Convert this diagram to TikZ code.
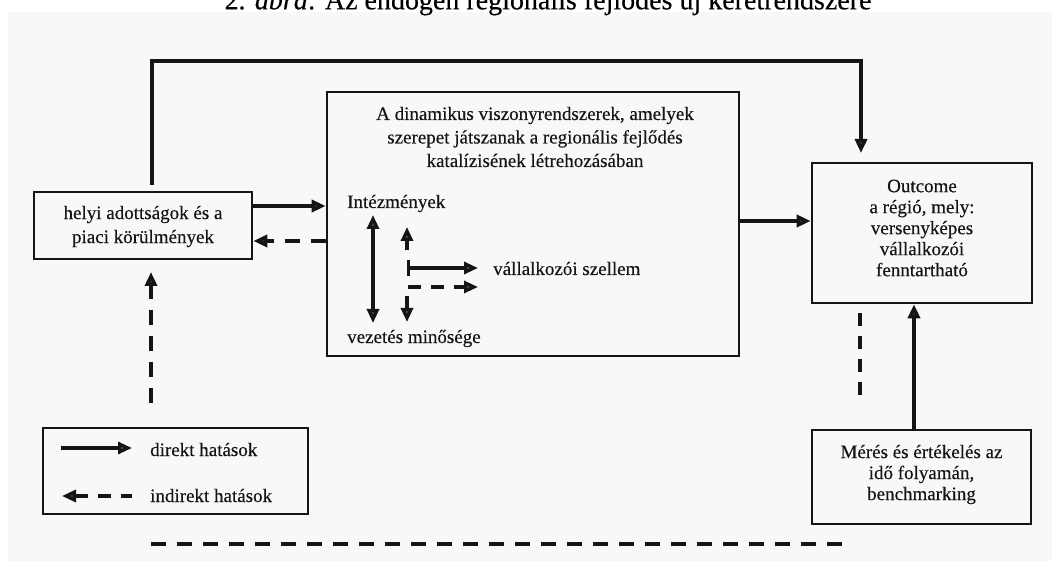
\documentclass[tikz,border=0pt]{standalone}
\usepackage{fontspec}
\setmainfont{Liberation Serif}[FakeBold=0.3]
\usetikzlibrary{arrows.meta}
\definecolor{bgc}{HTML}{F8F8F8}
\definecolor{ink}{HTML}{151515}
\begin{document}
\begin{tikzpicture}[x=1pt,y=-1pt,
  >={Triangle[length=14pt,width=12pt,fill=black!70]},
  box/.style={draw=ink,line width=2.6pt,inner sep=0pt},
  txt/.style={font=\fontsize{19}{21}\selectfont,inner sep=0pt,align=center,text=ink},
  main/.style={draw=ink,line width=3.6pt},
  inner/.style={draw=ink,line width=3.2pt},
  dsh/.style={dash pattern=on 15pt off 11pt},
  dshs/.style={dash pattern=on 13pt off 10pt}]
\useasboundingbox (0,0) rectangle (1052,561);
\fill[bgc] (8,12) rectangle (1052,561);
\node[anchor=base,inner sep=0pt,font=\fontsize{28}{30}\selectfont] (title) at (548,9.3)
  {2. \textit{ábra}: Az endogén regionális fejlődés új keretrendszere};
% boxes
\node[box,minimum width=218pt,minimum height=67pt] (left) at (143,225.5) {};
\node[box,minimum width=412pt,minimum height=264pt] (center) at (533,224) {};
\node[box,minimum width=220pt,minimum height=140pt] (outcome) at (922,233) {};
\node[box,minimum width=219pt,minimum height=94pt] (meres) at (921.5,477) {};
\node[box,line width=2.3pt,minimum width=265pt,minimum height=86pt] (legend) at (175.5,471) {};
% texts
\node[txt,font=\fontsize{19}{24}\selectfont] (ltext) at (143,226.5) {helyi adottságok és a\\piaci körülmények};
\node[txt,font=\fontsize{19}{23.5}\selectfont] (ctext) at (535,137) {A dinamikus viszonyrendszerek, amelyek\\szerepet játszanak a regionális fejlődés\\katalízisének létrehozásában};
\node[txt] (otext) at (922,228) {Outcome\\a régió, mely:\\versenyképes\\vállalkozói\\fenntartható};
\node[txt] (mtext) at (921.5,474.5) {Mérés és értékelés az\\idő folyamán,\\benchmarking};
\node[txt,anchor=base west] (intez) at (347,208) {Intézmények};
\node[txt,anchor=base west] (vezet) at (347,343) {vezetés minősége};
\node[txt,anchor=base west] (vall) at (493,275) {vállalkozói szellem};
\node[txt,anchor=base west] (direkt) at (150,456) {direkt hatások};
\node[txt,anchor=base west] (indirekt) at (150,502) {indirekt hatások};
% coordinates
\coordinate (t1) at (152,185);
\coordinate (tc) at (152,61);
\coordinate (t2) at (861,153);
\coordinate (y206) at (0,206);
\coordinate (y241) at (0,241);
\coordinate (y221) at (0,221);
\coordinate (x914) at (914,0);
\coordinate (d1) at (860,313);
\coordinate (d2) at (860,405);
\coordinate (u1) at (151,403);
\coordinate (u2) at (151,272);
\coordinate (b1) at (151,544);
\coordinate (b2) at (847,544);
\coordinate (i1) at (373,215);
\coordinate (i2) at (373,323);
\coordinate (i3) at (407,250);
\coordinate (i4) at (407,227);
\coordinate (i5) at (407,268);
\coordinate (i6) at (478,268);
\coordinate (i7) at (407,322);
\coordinate (i8) at (478,287);
\coordinate (l1) at (61,448);
\coordinate (l2) at (132,448);
\coordinate (l3) at (62,496);
\coordinate (l4) at (132,496);
% connectors
\draw[main,->] (t1) -- (tc) -| (t2);
\draw[main,->] (left.east |- y206) -- (center.west |- y206);
\draw[main,dsh,->] (center.west |- y241) -- (left.east |- y241);
\draw[main,->] (center.east |- y221) -- (outcome.west |- y221);
\draw[main,->] (meres.north -| x914) -- (outcome.south -| x914);
\draw[main,dshs] (d1) -- (d2);
\draw[main,dsh,->] (u1) -- (u2);
\draw[main,dsh] (b1) -- (b2);
% inner arrows
\draw[inner,<->] (i1) -- (i2);
\draw[inner,->] (i3) -- (i4);
\draw[inner,{Bar[width=16pt,line width=3pt]}->] (i5) -- (i6);
\draw[inner,dshs,<->] (i7) |- (i8);
% legend
\draw[inner,->] (l1) -- (l2);
\draw[inner,dshs,<-] (l3) -- (l4);
\end{tikzpicture}
\end{document}
